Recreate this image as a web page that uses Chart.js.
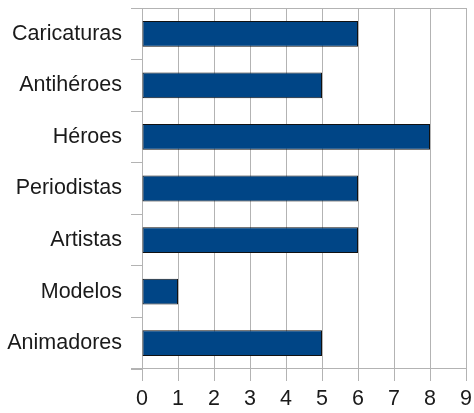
<!DOCTYPE html>
<html>
<head>
<meta charset="utf-8">
<script src="https://cdn.jsdelivr.net/npm/chart.js@4/dist/chart.umd.min.js"></script>
<style>
    html, body { margin: 0; padding: 0; background: #fff; }
    #wrap { width: 474px; height: 413px; }
</style>
</head>
<body>
<div id="wrap"><canvas id="chart"></canvas></div>
<script>
const categories = ['Caricaturas', 'Antihéroes', 'Héroes', 'Periodistas', 'Artistas', 'Modelos', 'Animadores'];
const values = [6, 5, 8, 6, 6, 1, 5];
const xMin = 0, xMax = 9;

const gridGray = '#b3b3b3';
const textColor = '#1a1a1a';
const labelFont = { family: '"Liberation Sans", Arial, sans-serif', size: 21.5 };

// top and bottom frame lines, running into the tick area like the y ticks
const frameLines = {
    id: 'frameLines',
    beforeDatasetsDraw(chart) {
        const { ctx, chartArea: a } = chart;
        ctx.save();
        ctx.strokeStyle = gridGray;
        ctx.lineWidth = 1;
        ctx.beginPath();
        ctx.moveTo(a.left - 11, Math.round(a.top) + 0.5);
        ctx.lineTo(a.right, Math.round(a.top) + 0.5);
        ctx.moveTo(a.left - 11, Math.round(a.bottom) - 0.5);
        ctx.lineTo(a.right, Math.round(a.bottom) - 0.5);
        ctx.stroke();
        ctx.restore();
    }
};

new Chart(document.getElementById('chart'), {
    type: 'bar',
    data: {
        labels: categories,
        datasets: [{
            data: values,
            backgroundColor: '#004586',
            borderColor: '#111',
            borderWidth: 1,
            borderSkipped: false,
            barPercentage: 0.5,
            categoryPercentage: 1
        }]
    },
    options: {
        indexAxis: 'y',
        responsive: true,
        maintainAspectRatio: false,
        animation: false,
        layout: { padding: { top: 8, right: 8, bottom: 0, left: 0 } },
        plugins: { legend: { display: false }, tooltip: { enabled: false } },
        scales: {
            x: {
                min: xMin,
                max: xMax,
                ticks: { stepSize: 1, color: textColor, font: labelFont, padding: 5 },
                grid: { color: gridGray, tickLength: 12, tickColor: gridGray },
                border: { display: false },
                afterFit: scale => {
                    scale.height = 44;
                    scale.paddingLeft = 0;
                    scale.paddingRight = 0;
                }
            },
            y: {
                offset: true,
                ticks: { color: textColor, font: labelFont, padding: 9 },
                grid: { offset: true, tickLength: 11, tickColor: gridGray, drawOnChartArea: false },
                border: { display: false },
                afterFit: scale => {
                    scale.width = 142;
                    scale.paddingTop = 0;
                    scale.paddingBottom = 0;
                }
            }
        }
    },
    plugins: [frameLines]
});
</script>
</body>
</html>
